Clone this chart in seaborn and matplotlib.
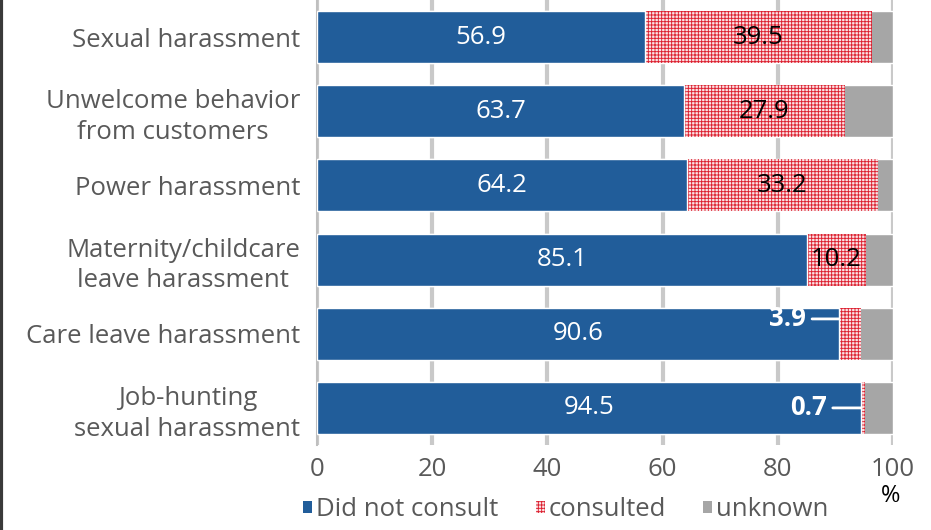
import matplotlib
matplotlib.use("Agg")
import matplotlib.pyplot as plt
from matplotlib.lines import Line2D
from matplotlib.patches import Rectangle
import seaborn as sns
import pandas as pd

categories = [
    "Sexual harassment",
    "Unwelcome behavior\nfrom customers",
    "Power harassment",
    "Maternity/childcare\nleave harassment",
    "Care leave harassment",
    "Job-hunting\nsexual harassment",
]
did_not_consult = [56.9, 63.7, 64.2, 85.1, 90.6, 94.5]
consulted = [39.5, 27.9, 33.2, 10.2, 3.9, 0.7]
unknown = [round(100 - a - b, 1) for a, b in zip(did_not_consult, consulted)]
x_ticks = [0, 20, 40, 60, 80, 100]
series_names = ["Did not consult", "consulted", "unknown"]

BLUE = "#215d9a"
RED = "#dc2030"
PINK = "#fbe3e5"
GREY = "#a6a6a6"
TEXT = "#595959"
FS = 18.5

sns.set_theme(style="white")
plt.rcParams["font.family"] = ["Open Sans", "DejaVu Sans"]
plt.rcParams["hatch.linewidth"] = 0.65
plt.rcParams["hatch.color"] = RED

df = pd.DataFrame({
    "category": categories,
    "blue": did_not_consult,
    "red": consulted,
    "grey": unknown,
})
df["blue_red"] = df["blue"] + df["red"]
df["total"] = df["blue_red"] + df["grey"]

fig = plt.figure(figsize=(9.31, 5.30), dpi=100)
ax = fig.add_axes([317 / 931, 1 - 445 / 530, 576 / 931, 445 / 530])

# stacked bars drawn as overlapping cumulative layers
sns.barplot(data=df, x="total", y="category", color=GREY, width=0.7,
            saturation=1, ax=ax, zorder=2)
n0 = len(ax.patches)
sns.barplot(data=df, x="blue_red", y="category", color=PINK, width=0.7,
            saturation=1, ax=ax, zorder=3)
for p in ax.patches[n0:]:
    p.set_hatch("+" * 5)
    p.set_edgecolor(RED)
    p.set_linewidth(0)
sns.barplot(data=df, x="blue", y="category", color=BLUE, width=0.7,
            saturation=1, ax=ax, zorder=4)

ax.set_xlim(0, 100)
ax.set_ylim(5.5, -0.5)
ax.set_xticks(x_ticks)
ax.set_xticklabels([str(t) for t in x_ticks])
ax.set_xlabel("")
ax.set_ylabel("")
for s in ["top", "right", "bottom"]:
    ax.spines[s].set_visible(False)
ax.spines["left"].set_color("#bfbfbf")
ax.spines["left"].set_linewidth(1.5)
ax.grid(axis="x", color="#c9c9c9", linewidth=3, zorder=0)
ax.set_axisbelow(True)
ax.tick_params(axis="x", length=0, labelsize=FS, labelcolor=TEXT, pad=9)
ax.tick_params(axis="y", length=0, labelsize=FS, labelcolor=TEXT, pad=12)
for lab in ax.get_yticklabels():
    lab.set_linespacing(1.3)
    lab.set_multialignment("center")

# value labels
for i, (b, r) in enumerate(zip(did_not_consult, consulted)):
    ax.text(b / 2, i, f"{b}", ha="center", va="center", color="white",
            fontsize=FS, zorder=6)
    if r >= 10:
        ax.text(b + r / 2, i, f"{r}", ha="center", va="center",
                color="black", fontsize=FS, zorder=6)
    else:
        ty = i - 0.2 if r > 2 else i
        tx = b - 5.7 if r > 2 else b - 6.0
        ax.annotate(f"{r}", xy=(b, ty), xytext=(tx, ty),
                    ha="right", va="center", color="white", fontsize=FS,
                    fontweight="bold", zorder=6,
                    arrowprops=dict(arrowstyle="-", color="white", lw=2,
                                    shrinkA=2, shrinkB=0))

# legend
handles = [
    Rectangle((0, 0), 1, 1, facecolor=BLUE, edgecolor="none"),
    Rectangle((0, 0), 1, 1, facecolor=PINK, edgecolor=RED, hatch="+" * 5, linewidth=0),
    Rectangle((0, 0), 1, 1, facecolor=GREY, edgecolor="none"),
]
leg = fig.legend(handles, series_names, loc="center", bbox_to_anchor=(566 / 931, 1 - 510 / 530),
                 ncol=3, frameon=False, fontsize=FS, handlelength=0.35, handleheight=0.35,
                 handletextpad=0.15, columnspacing=1.45, labelcolor=TEXT)

fig.text(891 / 931, 1 - 496 / 530, "%", ha="center", va="center", fontsize=17, color="black")

# dark left frame edge
fig.add_artist(Line2D([0.0015, 0.0015], [0, 1], transform=fig.transFigure,
                      color="#3a3a3a", linewidth=3))

fig.savefig("out.png", dpi=100)
